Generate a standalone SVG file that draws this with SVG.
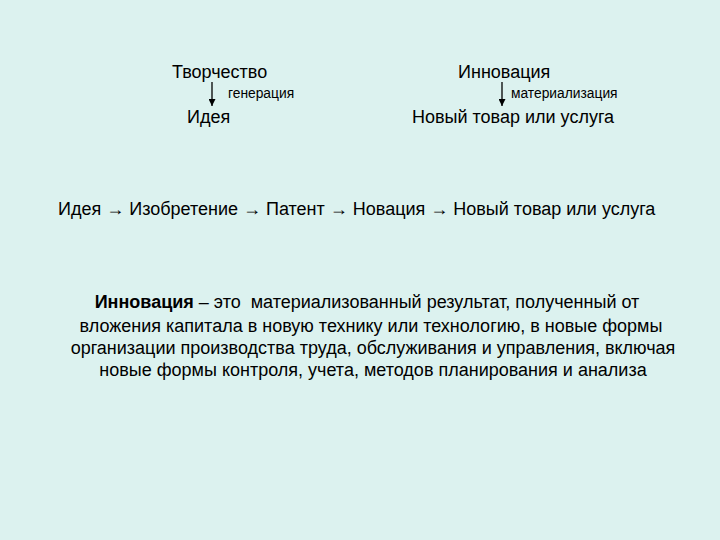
<svg xmlns="http://www.w3.org/2000/svg" width="720" height="540" viewBox="0 0 720 540">
<defs>
<marker id="ah" viewBox="0 0 10 10" refX="10" refY="5" markerWidth="7" markerHeight="7" markerUnits="userSpaceOnUse" orient="auto">
<path d="M0,0 L10,5 L0,10 Z" fill="#000"/>
</marker>
<style>
text{font-family:"Liberation Sans",Arial,sans-serif;fill:#000}
.big{font-size:18px}
.sm{font-size:13.8px}
.p{font-size:18px;text-anchor:middle;white-space:pre}
.b{font-weight:bold}
.conn line{stroke:#000;stroke-width:1.3;marker-end:url(#ah)}
</style>
</defs>
<rect width="720" height="540" fill="#DCF2EF"/>
<g id="tvorchestvo"><text class="big" x="172" y="78">Творчество</text></g>
<g id="ideya"><text class="big" x="187" y="123">Идея</text></g>
<g id="innovatsiya"><text class="big" x="458" y="78">Инновация</text></g>
<g id="noviy-tovar"><text class="big" x="412" y="123">Новый товар или услуга</text></g>
<g id="connectors" class="conn">
<line x1="212" y1="82" x2="212" y2="106"/>
<line x1="502" y1="82" x2="502" y2="106"/>
</g>
<g id="labels">
<text class="sm" x="228" y="98">генерация</text>
<text class="sm" x="511" y="98">материализация</text>
</g>
<g id="chain"><text class="big" x="58" y="215">Идея → Изобретение → Патент → Новация → Новый товар или услуга</text></g>
<g id="definition">
<text class="p" x="367" y="308" xml:space="preserve"><tspan class="b">Инновация</tspan> – это  материализованный результат, полученный от</text>
<text class="p" x="371" y="332">вложения капитала в новую технику или технологию, в новые формы</text>
<text class="p" x="373" y="354">организации производства труда, обслуживания и управления, включая</text>
<text class="p" x="373" y="376">новые формы контроля, учета, методов планирования и анализа</text>
</g>
</svg>
